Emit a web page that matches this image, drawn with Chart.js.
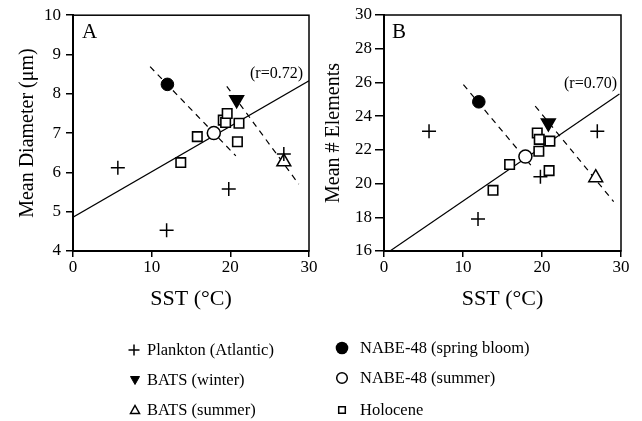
<!DOCTYPE html>
<html><head><meta charset="utf-8">
<script src="https://cdn.jsdelivr.net/npm/chart.js@4.4.1/dist/chart.umd.min.js"></script>
<style>
html,body{margin:0;padding:0;background:#fff;}
body{width:642px;height:421px;position:relative;overflow:hidden;}
canvas{position:absolute;top:0;}
#ca{left:0;}
#cb{left:321px;}
</style></head><body>
<canvas id="ca" width="642" height="421"></canvas>
<canvas id="cb" width="321" height="312"></canvas>
<script>
// ---------- data ----------
const sstTicks = [0, 10, 20, 30];
const diamTicks = [4, 5, 6, 7, 8, 9, 10];
const elemTicks = [16, 18, 20, 22, 24, 26, 28, 30];

const planktonSST_A = [5.7, 11.9, 19.8, 26.8];
const planktonDiam = [6.12, 4.53, 5.58, 6.47];
const planktonSST_B = [5.7, 11.9, 19.8, 27.0];
const planktonElem = [23.1, 17.9, 20.4, 23.1];

const batsWinterSST = [20.8];
const batsWinterDiam = [7.85];
const batsWinterElem = [23.6];

const batsSummerSST = [26.8];
const batsSummerDiam = [6.27];
const batsSummerElem = [20.35];

const nabeSpringSST = [12.0];
const nabeSpringDiam = [8.24];
const nabeSpringElem = [24.85];

const nabeSummerSST = [17.9];
const nabeSummerDiam = [7.0];
const nabeSummerElem = [21.6];

const holoceneSST_A = [13.7, 15.8, 19.1, 19.4, 19.6, 21.1, 20.9];
const holoceneDiam = [6.25, 6.91, 7.33, 7.27, 7.5, 7.25, 6.78];
const holoceneSST_B = [13.8, 15.9, 19.4, 19.65, 19.6, 21.0, 20.9];
const holoceneElem = [19.6, 21.13, 23.0, 22.62, 21.92, 22.52, 20.77];

// regression (solid) and trend (dashed) lines
const fitSST_A = [0, 30];
const fitDiam = [4.86, 8.33];
const dash1SST_A = [9.8, 20.7];
const dash1Diam = [8.69, 6.42];
const dash2SST_A = [19.55, 28.7];
const dash2Diam = [8.19, 5.70];

const fitSST_B = [0.76, 29.8];
const fitElem = [16, 25.31];
const dash1SST_B = [10.05, 18.7];
const dash1Elem = [25.87, 21.03];
const dash2SST_B = [19.14, 29.07];
const dash2Elem = [24.6, 18.93];

const rLabelA = '(r=0.72)';
const rLabelB = '(r=0.70)';

const legendLabels = ['Plankton (Atlantic)', 'BATS (winter)', 'BATS (summer)',
  'NABE-48 (spring bloom)', 'NABE-48 (summer)', 'Holocene'];

// ---------- helpers ----------
const FAM = "'Liberation Serif', serif";
const pts = (xs, ys) => xs.map((x, i) => ({x: x, y: ys[i]}));

function makeDatasets(pSST, pV, hSST, hV, wV, sV, nsV, nuV, fSST, fV, d1S, d1V, d2S, d2V) {
  return [
    {label: 'fit', data: pts(fSST, fV), showLine: true, borderColor: '#000', borderWidth: 1.2, pointRadius: 0, fill: false, order: 10},
    {label: 'trend1', data: pts(d1S, d1V), showLine: true, borderColor: '#000', borderWidth: 1.2, borderDash: [6, 5], pointRadius: 0, fill: false, order: 10},
    {label: 'trend2', data: pts(d2S, d2V), showLine: true, borderColor: '#000', borderWidth: 1.2, borderDash: [6, 5], pointRadius: 0, fill: false, order: 10},
    {label: legendLabels[5], data: pts(hSST, hV), pointStyle: 'rect', pointRadius: 6.7, backgroundColor: '#fff', borderColor: '#000', borderWidth: 1.6},
    {label: legendLabels[0], data: pts(pSST, pV), pointStyle: 'cross', pointRadius: 7, borderColor: '#000', borderWidth: 1.5},
    {label: legendLabels[1], data: pts(batsWinterSST, wV), pointStyle: 'triangle', rotation: 180, pointRadius: 8, backgroundColor: '#000', borderColor: '#000', borderWidth: 1.5},
    {label: legendLabels[2], data: pts(batsSummerSST, sV), pointStyle: 'triangle', pointRadius: 8, backgroundColor: '#fff', borderColor: '#000', borderWidth: 1.5},
    {label: legendLabels[3], data: pts(nabeSpringSST, nsV), pointStyle: 'circle', pointRadius: 6.3, backgroundColor: '#000', borderColor: '#000', borderWidth: 1},
    {label: legendLabels[4], data: pts(nabeSummerSST, nuV), pointStyle: 'circle', pointRadius: 6.5, backgroundColor: '#fff', borderColor: '#000', borderWidth: 1.5}
  ];
}

// legend drawn on the canvas of panel A (which spans the whole page)
const legendPos = [[134, 350, 147], [135, 380, 147], [135, 410, 147], [342, 348, 360], [342, 378, 360], [342, 410, 360]];
function drawLegendSymbol(ctx, i, x, y) {
  ctx.strokeStyle = '#000'; ctx.fillStyle = '#000'; ctx.lineWidth = 1.5;
  ctx.beginPath();
  if (i === 0) {
    ctx.moveTo(x - 5.5, y); ctx.lineTo(x + 5.5, y);
    ctx.moveTo(x, y - 5.5); ctx.lineTo(x, y + 5.5);
    ctx.stroke();
  } else if (i === 1) {
    ctx.moveTo(x - 4.5, y - 3.5); ctx.lineTo(x + 4.5, y - 3.5); ctx.lineTo(x, y + 4.5); ctx.closePath();
    ctx.lineWidth = 1; ctx.fill(); ctx.stroke();
  } else if (i === 2) {
    ctx.moveTo(x - 4.5, y + 3.5); ctx.lineTo(x + 4.5, y + 3.5); ctx.lineTo(x, y - 4.5); ctx.closePath();
    ctx.fillStyle = '#fff'; ctx.fill(); ctx.stroke();
  } else if (i === 3) {
    ctx.arc(x, y, 6.3, 0, Math.PI * 2); ctx.fill();
  } else if (i === 4) {
    ctx.arc(x, y, 5.3, 0, Math.PI * 2); ctx.fillStyle = '#fff'; ctx.fill(); ctx.stroke();
  } else {
    ctx.rect(x - 3.3, y - 3.3, 6.6, 6.6); ctx.fillStyle = '#fff'; ctx.fill(); ctx.stroke();
  }
}
const legendPlugin = {
  id: 'customLegend',
  afterDraw(chart) {
    const ctx = chart.ctx;
    ctx.save();
    legendLabels.forEach((t, i) => {
      const [sx, sy, tx] = legendPos[i];
      drawLegendSymbol(ctx, i, sx, sy);
      ctx.fillStyle = '#000';
      ctx.font = '16.5px ' + FAM;
      ctx.textAlign = 'left';
      ctx.textBaseline = 'middle';
      ctx.fillText(t, tx, sy + 1);
    });
    ctx.restore();
  }
};

function makeChart(id, datasets, yMin, yMax, yTicks, yTitle, yWidth, pad, yTitlePad, tickLen, tickPad, letter, rLabel, letterDX, rDX, rBase, extra) {
  const frame = {
    id: 'frame',
    afterDraw(chart) {
      const {ctx, chartArea: a} = chart;
      ctx.save();
      ctx.strokeStyle = '#000';
      ctx.lineWidth = 1.5;
      ctx.strokeRect(a.left, a.top, a.right - a.left, a.bottom - a.top);
      ctx.fillStyle = '#000';
      ctx.textBaseline = 'alphabetic';
      ctx.font = '21px ' + FAM;
      ctx.textAlign = 'left';
      ctx.fillText(letter, a.left + letterDX, a.top + 23);
      ctx.font = '16px ' + FAM;
      ctx.textAlign = 'right';
      ctx.fillText(rLabel, a.right - rDX, a.top + rBase);
      ctx.restore();
    }
  };
  return new Chart(document.getElementById(id), {
    type: 'scatter',
    data: {datasets: datasets},
    options: {
      responsive: false,
      animation: false,
      events: [],
      layout: {padding: pad},
      plugins: {legend: {display: false}, tooltip: {enabled: false}},
      scales: {
        x: {
          type: 'linear', min: 0, max: 30,
          afterBuildTicks: s => { s.ticks = sstTicks.map(v => ({value: v})); },
          afterFit: s => { s.height = 312 - 251; },
          ticks: {color: '#000', font: {family: FAM, size: 17}, padding: 0, maxRotation: 0},
          grid: {drawOnChartArea: false, drawTicks: true, tickLength: 6, color: '#000', lineWidth: 1.5},
          border: {color: '#000', width: 2},
          title: {display: true, text: 'SST (°C)', color: '#000', font: {family: FAM, size: 22}, padding: {top: 0, bottom: 0}}
        },
        y: {
          type: 'linear', min: yMin, max: yMax,
          afterBuildTicks: s => { s.ticks = yTicks.map(v => ({value: v})); },
          afterFit: s => { s.width = yWidth; },
          ticks: {color: '#000', font: {family: FAM, size: 17}, padding: tickPad},
          grid: {drawOnChartArea: false, drawTicks: true, tickLength: tickLen, color: '#000', lineWidth: 1.5},
          border: {color: '#000', width: 2},
          title: {display: true, text: yTitle, color: '#000', font: {family: FAM, size: 20}, padding: {top: yTitlePad, bottom: 0}}
        }
      }
    },
    plugins: [frame].concat(extra)
  });
}

makeChart('ca',
  makeDatasets(planktonSST_A, planktonDiam, holoceneSST_A, holoceneDiam, batsWinterDiam, batsSummerDiam,
    nabeSpringDiam, nabeSummerDiam, fitSST_A, fitDiam, dash1SST_A, dash1Diam, dash2SST_A, dash2Diam),
  4, 10, diamTicks, 'Mean Diameter (μm)', 73, {top: 15, right: 333, left: 0, bottom: 109}, 16, 7, 5, 'A', rLabelA, 9, 6, 63, [legendPlugin]);

makeChart('cb',
  makeDatasets(planktonSST_B, planktonElem, holoceneSST_B, holoceneElem, batsWinterElem, batsSummerElem,
    nabeSpringElem, nabeSummerElem, fitSST_B, fitElem, dash1SST_B, dash1Elem, dash2SST_B, dash2Elem),
  16, 30, elemTicks, 'Mean # Elements', 63, {top: 15, right: 21, left: 0, bottom: 0}, 1, 9, 3, 'B', rLabelB, 8, 4, 73, []);
</script>
</body></html>
